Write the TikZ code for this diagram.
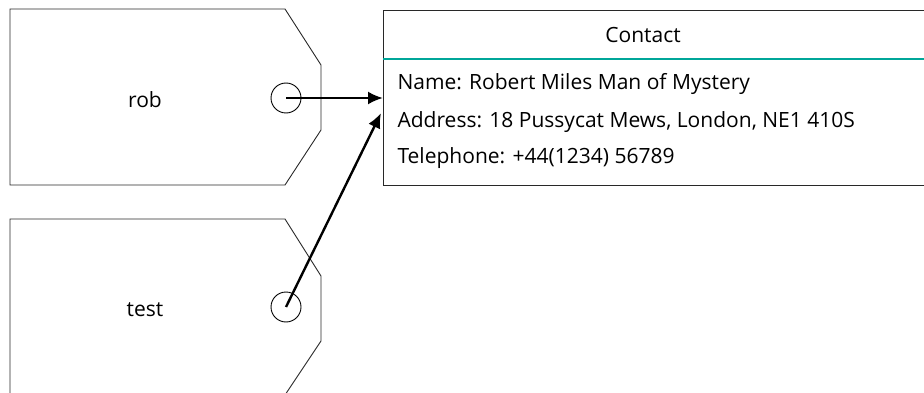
\documentclass[tikz,border=0pt]{standalone}
\usepackage{fontspec}
\setmainfont{Open Sans}
\usetikzlibrary{positioning, arrows.meta}
\definecolor{rule}{RGB}{0,166,153}
\definecolor{edge}{RGB}{40,40,40}

\begin{document}
\begin{tikzpicture}[x=1pt, y=-1pt, font=\fontsize{21}{25}\selectfont,
        tag/.style={draw=edge, line width=0.9pt},
        hole/.style={circle, draw, line width=0.9pt, minimum size=30pt, inner sep=0pt},
        link/.style={->, line width=2.4pt, >={Latex[length=15pt, width=13pt]}}]
        \useasboundingbox (0,0) rectangle (924,393);

        % tags
        \draw[tag] (10,9) -- (285,9) -- (321,65) -- (321,130) -- (285,185) -- (10,185) -- cycle;
        \draw[tag] (10,219) -- (285,219) -- (321,276) -- (321,341) -- (285,395) -- (10,395) -- cycle;
        \node (rob) at (145,100) {rob};
        \node (test) at (145,310) {test};
        \node[hole] (h1) at (286,98) {};
        \node[hole] (h2) at (286,307) {};

        % contact record
        \node[draw=edge, line width=1pt, anchor=north west, minimum width=560, minimum height=175, inner sep=0pt] (contact) at (383,10) {};
        \node (title) at (643,35) {Contact};
        \draw[rule, line width=1.8pt] (383,59) -- (943,59);
        \node[anchor=west] (name) at (394,84) {Name: Robert Miles Man of Mystery};
        \node[anchor=west] (addr) at (394,122) {Address: 18 Pussycat Mews, London, NE1 410S};
        \node[anchor=west] (tel) at (394,158) {Telephone: +44(1234) 56789};
        \coordinate (in2) at (381,113);

        \path[link]
        (h1.center) edge (contact.west |- h1)
        (h2.center) edge (in2);

    \end{tikzpicture}
\end{document}
